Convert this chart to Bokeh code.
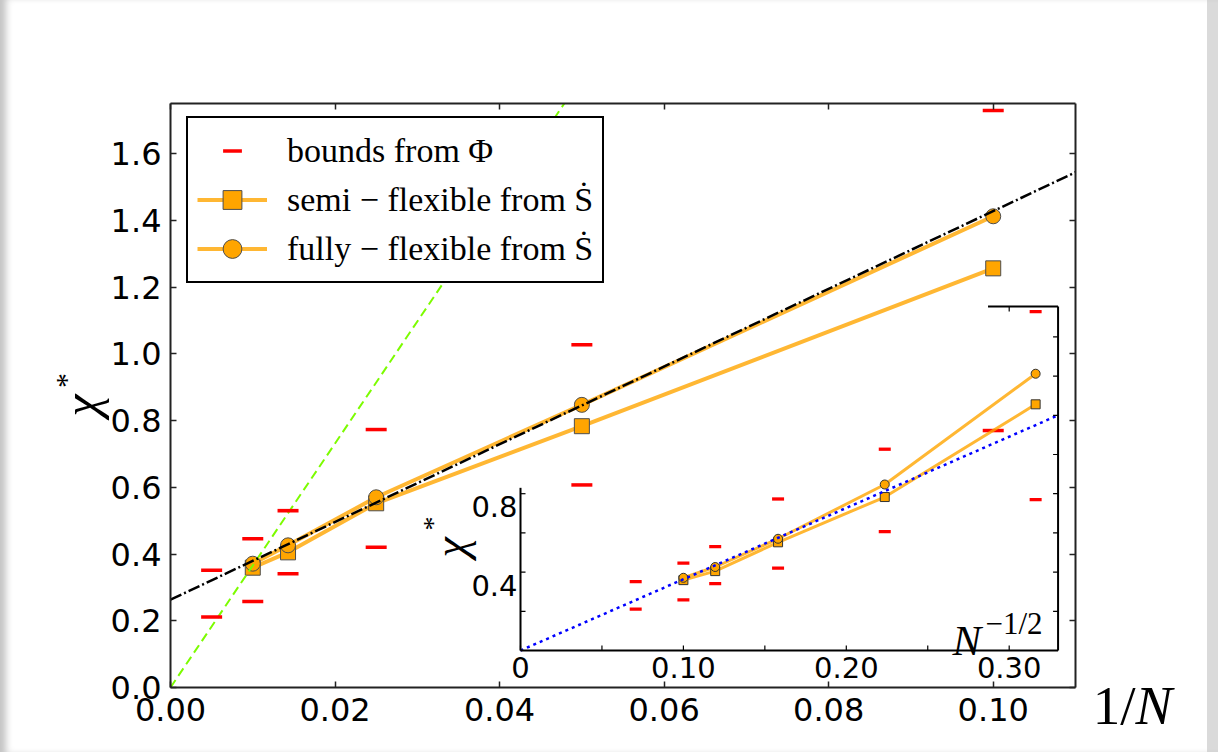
import math
from bokeh.plotting import figure
from bokeh.models import (Range1d, LinearAxis, FixedTicker, PrintfTickFormatter,
                          CustomJSTickFormatter, Legend, LegendItem, Label, ColumnDataSource)
from bokeh.core.properties import value
from bokeh.embed import file_html
from bokeh.resources import INLINE

# ---------------- data ----------------
N_bounds = [200, 100, 70, 40, 20, 10]
bound_upper = [0.351, 0.446, 0.530, 0.773, 1.027, 1.729]
bound_lower = [0.211, 0.258, 0.341, 0.420, 0.607, 0.770]

N_sdot = [100, 70, 40, 20, 10]
chi_semi = [0.359, 0.405, 0.552, 0.783, 1.256]
chi_fully = [0.371, 0.426, 0.570, 0.847, 1.412]

fit_x = [0.0, 0.11]
fit_y = [0.263, 1.544]
green_x = [0.0, 0.048]
green_y = [0.0, 1.755]
blue_x = [0.0, 0.33]
blue_y = [0.0, 1.20]

main_xticks = [0.0, 0.02, 0.04, 0.06, 0.08, 0.10]
main_yticks = [0.0, 0.2, 0.4, 0.6, 0.8, 1.0, 1.2, 1.4, 1.6]
inset_xticks = [0.0, 0.05, 0.10, 0.15, 0.20, 0.25, 0.30]
inset_xlabel_pos = [0.0, 0.10, 0.20, 0.30]
inset_xlabels = ["0", "0.10", "0.20", "0.30"]
inset_yticks_left = [0.2, 0.4, 0.6, 0.8]
inset_ylabel_pos = [0.4, 0.8]
inset_ylabels = ["0.4", "0.8"]
inset_yticks_right = [0.2, 0.4, 0.6, 0.8, 1.0, 1.2, 1.4, 1.6]
inset_xticks_top = [0.30]

# ---------------- derived ----------------
inv_bounds = [1.0 / n for n in N_bounds]
inv_sdot = [1.0 / n for n in N_sdot]
sq_bounds = [n ** -0.5 for n in N_bounds]
sq_sdot = [n ** -0.5 for n in N_sdot]

# ---------------- geometry (pixels) ----------------
W, H = 1218, 752
FL, FR, FT, FB = 170, 1075, 103, 687
IX0, IXS = 520, 1629.0   # inset x=0 pixel, px per unit
IY0, IYS = 650, 196.0    # inset y=0 pixel, px per unit
INSET_XMAX, INSET_YMAX = 0.33, 1.755
INSET_LEFT_TOP, INSET_TOP_START = 0.83, 0.287

p = figure(width=W, height=H, x_range=Range1d(0, 0.11), y_range=Range1d(0, 1.75),
           output_backend="svg", toolbar_location=None,
           x_axis_location=None, y_axis_location=None,
           min_border_left=FL, min_border_right=W - FR,
           min_border_top=FT, min_border_bottom=H - FB,
           background_fill_color="white", border_fill_color="white")
p.border_fill_alpha = 0
p.styles = {"background-color": "white",
            "box-shadow": "inset 9px 0 7px -3px #c4c4c4, inset -11px 0 0 0 #dadada"}
p.outline_line_color = None
for g in p.grid:
    g.visible = False

p.extra_x_ranges = {"ix": Range1d((FL - IX0) / IXS, (FR - IX0) / IXS)}
p.extra_y_ranges = {"iy": Range1d((IY0 - FB) / IYS, (IY0 - FT) / IYS)}


def mk_axis(ticks, fmt, labels):
    ax = LinearAxis(ticker=FixedTicker(ticks=ticks))
    if labels:
        ax.formatter = PrintfTickFormatter(format=fmt)
    else:
        ax.formatter = CustomJSTickFormatter(code="return ''")
        ax.major_label_standoff = 0
    ax.major_tick_in = 6
    ax.major_tick_out = 0
    ax.minor_tick_line_color = None
    ax.axis_line_color = "#222222"
    ax.axis_line_width = 2
    ax.major_tick_line_color = "#222222"
    ax.major_tick_line_width = 1.5
    ax.major_label_text_font = "DejaVu Sans"
    ax.major_label_text_font_size = "32px"
    ax.major_label_text_color = "black"
    return ax


ax_b = mk_axis(main_xticks, "%.2f", True)
ax_b.major_label_standoff = 10
ax_l = mk_axis(main_yticks, "%.1f", True)
ax_l.major_label_standoff = 9
ax_t = mk_axis(main_xticks, "", False)
ax_r = mk_axis(main_yticks, "", False)
p.add_layout(ax_b, "below")
p.add_layout(ax_l, "left")
p.add_layout(ax_t, "above")
p.add_layout(ax_r, "right")

ORANGE = "#FFA500"
EDGE = "#4d4d4d"

# ---------------- main plot ----------------
r_semi_line = p.line(inv_sdot, chi_semi, line_color=ORANGE, line_alpha=0.8, line_width=4)
r_fully_line = p.line(inv_sdot, chi_fully, line_color=ORANGE, line_alpha=0.8, line_width=4)
r_semi_pts = p.scatter(inv_sdot, chi_semi, marker="square", size=15,
                       fill_color=ORANGE, line_color=EDGE, line_width=1)
r_fully_pts = p.scatter(inv_sdot, chi_fully, marker="circle", size=15,
                        fill_color=ORANGE, line_color=EDGE, line_width=1)
p.line(green_x, green_y, line_color="#7CFC00", line_width=2, line_dash="9 5")
p.line(fit_x, fit_y, line_color="black", line_width=2.5, line_dash="12 3 2 3")
bsrc = ColumnDataSource(dict(x=inv_bounds + inv_bounds, y=bound_upper + bound_lower))
r_bounds = p.scatter("x", "y", source=bsrc, marker="dash", size=21,
                     line_color="red", line_width=3.5)

# ---------------- inset ----------------
kw = dict(x_range_name="ix", y_range_name="iy")
p.line(sq_sdot, chi_semi, line_color=ORANGE, line_alpha=0.8, line_width=3, **kw)
p.line(sq_sdot, chi_fully, line_color=ORANGE, line_alpha=0.8, line_width=3, **kw)
p.scatter(sq_sdot, chi_semi, marker="square", size=9, fill_color=ORANGE,
          line_color="#333333", line_width=1, **kw)
p.scatter(sq_sdot, chi_fully, marker="circle", size=9, fill_color=ORANGE,
          line_color="#333333", line_width=1, **kw)
p.line(blue_x, blue_y, line_color="blue", line_width=2.5, line_dash="3 4", **kw)
isrc = ColumnDataSource(dict(x=sq_bounds + sq_bounds, y=bound_upper + bound_lower))
p.scatter("x", "y", source=isrc, marker="dash", size=12, line_color="red",
          line_width=3.3, **kw)

# inset frame
p.segment(x0=[0, INSET_XMAX, INSET_TOP_START, 0], y0=[0, 0, INSET_YMAX, 0],
          x1=[INSET_XMAX, INSET_XMAX, INSET_XMAX, 0], y1=[0, INSET_YMAX, INSET_YMAX, INSET_LEFT_TOP],
          line_color="black", line_width=2, **kw)
tdx, tdy = 5 / IXS, 5 / IYS
p.segment(x0=inset_xticks, y0=[0] * len(inset_xticks), x1=inset_xticks,
          y1=[tdy] * len(inset_xticks), line_color="black", line_width=1.2, **kw)
p.segment(x0=inset_xticks_top, y0=[INSET_YMAX] * len(inset_xticks_top), x1=inset_xticks_top,
          y1=[INSET_YMAX - tdy] * len(inset_xticks_top), line_color="black", line_width=1.2, **kw)
p.segment(x0=[0] * len(inset_yticks_left), y0=inset_yticks_left, x1=[tdx] * len(inset_yticks_left),
          y1=inset_yticks_left, line_color="black", line_width=1.2, **kw)
p.segment(x0=[INSET_XMAX] * len(inset_yticks_right), y0=inset_yticks_right,
          x1=[INSET_XMAX - tdx] * len(inset_yticks_right), y1=inset_yticks_right,
          line_color="black", line_width=1.2, **kw)
p.text(x=inset_xlabel_pos, y=[0] * len(inset_xlabel_pos), text=inset_xlabels,
       text_font=value("DejaVu Sans"), text_font_size="29px", text_align="center",
       text_baseline="top", y_offset=6, text_color="black", **kw)
p.text(x=[0] * len(inset_ylabel_pos), y=inset_ylabel_pos, text=inset_ylabels,
       text_font=value("DejaVu Sans"), text_font_size="29px", text_align="right",
       text_baseline="middle", x_offset=-3, y_offset=13, text_color="black", **kw)

# ---------------- legend ----------------
legend = Legend(items=[
    LegendItem(label="bounds from Φ", renderers=[r_bounds]),
    LegendItem(label="semi − flexible from Ṡ", renderers=[r_semi_line, r_semi_pts]),
    LegendItem(label="fully − flexible from Ṡ", renderers=[r_fully_line, r_fully_pts]),
], location=(16, 404))
legend.border_line_color = "black"
legend.border_line_width = 2
legend.border_line_alpha = 1
legend.background_fill_color = "white"
legend.background_fill_alpha = 1
legend.label_text_font = "Liberation Serif"
legend.label_text_font_size = "34px"
legend.label_text_color = "black"
legend.glyph_width = 70
legend.glyph_height = 47
legend.label_height = 47
legend.label_standoff = 20
legend.padding = 9
legend.spacing = 2
legend.margin = 0
p.add_layout(legend)

# ---------------- axis labels ----------------
try:
    Label(x=0, y=0, x_units="canvas", y_units="canvas")
    CANVAS = True
except Exception:
    CANVAS = False


def lab(px, py, text, size, style="normal", angle=0.0, align="center",
        baseline="middle", side="center"):
    if CANVAS and side != "center":
        L = Label(x=px, y=py, x_units="canvas", y_units="canvas")
    else:
        L = Label(x=px - FL, y=FB - py, x_units="screen", y_units="screen")
    L.update(text=text, angle=angle, text_align=align, text_baseline=baseline,
             text_font="Liberation Serif", text_font_style=style,
             text_font_size=size, text_color="black")
    if side == "center":
        p.add_layout(L)
    else:
        p.add_layout(L, side)


lab(80, 405, "χ", "50px", "italic", math.pi / 2, side="left")
lab(65, 380, "*", "30px", "normal", math.pi / 2, side="above")
lab(1135, 705, "1/", "55px", "normal", 0.0, "right", "alphabetic", side="right")
lab(1135, 705, "N", "55px", "italic", 0.0, "left", "alphabetic", side="right")
lab(450, 547, "χ", "46px", "italic", math.pi / 2)
lab(432, 523, "*", "28px", "normal", math.pi / 2)
lab(952, 640, "N", "43px", "italic", 0.0, "left", "alphabetic")
lab(985, 623, "−1/2", "31px", "normal", 0.0, "left", "alphabetic")

open("out.html", "w").write(file_html(p, INLINE))
